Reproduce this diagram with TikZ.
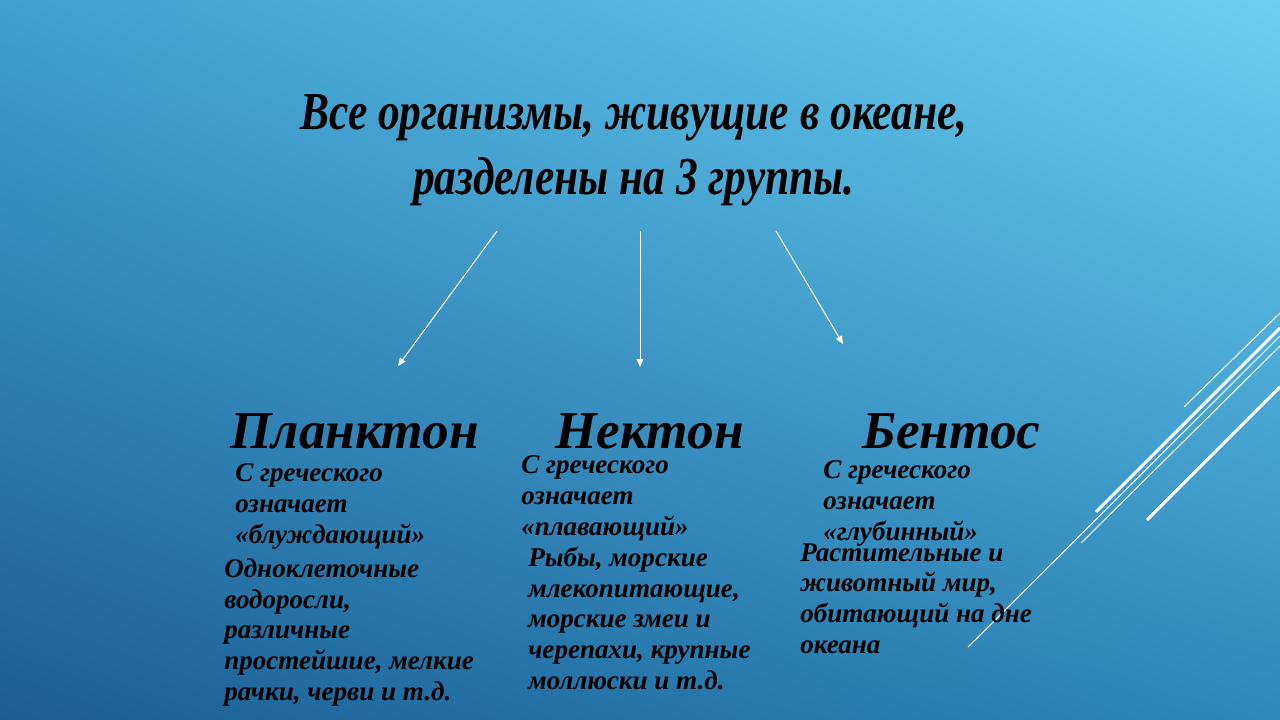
\documentclass[tikz,border=0pt]{standalone}
\usepackage{fontspec}
\setmainfont{Liberation Serif}
\newfontfamily\titlefont[FakeStretch=0.815]{Liberation Serif}
\usetikzlibrary{arrows.meta,shadings}
\definecolor{bgUL}{HTML}{3F9FD0}
\definecolor{bgUR}{HTML}{6CCFF0}
\definecolor{bgLL}{HTML}{1B5E93}
\definecolor{bgLR}{HTML}{2E88BB}
\tikzset{
  titletext/.style={inner sep=0pt, align=center, font=\titlefont\bfseries\itshape\fontsize{40}{48.75}\selectfont, text=black},
  headtext/.style={inner sep=0pt, anchor=base west, font=\bfseries\itshape\fontsize{40}{44}\selectfont, text=black},
  bodytext/.style={inner sep=0pt, align=left, anchor=base west, font=\bfseries\itshape\fontsize{20.3}{23}\selectfont, text=black},
  arrowline/.style={draw=white, line width=0.75pt, -{Triangle[length=6pt,width=5pt]}},
  thinline/.style={draw=white, line width=0.75pt},
  thickline/.style={draw=white, line width=2.2pt}
}
\begin{document}
\begin{tikzpicture}[x=0.75pt,y=-0.75pt]
\useasboundingbox (0,0) rectangle (1280,720);
\shade[upper left=bgUL, upper right=bgUR, lower left=bgLL, lower right=bgLR] (0,0) rectangle (1280,720);
% decorative lines
\draw[thinline] (1184,407) -- (1280,313);
\draw[thickline] (1096,512) -- (1280,328);
\draw[thinline] (968,647) -- (1280,336);
\draw[thinline] (1081,543) -- (1280,346);
\draw[thickline] (1147,520) -- (1280,387);
% title (base anchor = baseline of last line)
\node[titletext, anchor=base] (title) at (634,195) {Все организмы, живущие в океане,\\разделены на 3 группы.};
% headings
\node[headtext] (plankton) at (230,448) {Планктон};
\node[headtext] (nekton) at (555,448) {Нектон};
\node[headtext] (bentos) at (862,448) {Бентос};
% arrows
\coordinate (s1) at (497,231); \coordinate (e1) at (398,366);
\coordinate (s2) at (640,231); \coordinate (e2) at (640,367);
\coordinate (s3) at (776,231); \coordinate (e3) at (843,344);
\draw[arrowline] (s1) -- (e1);
\draw[arrowline] (s2) -- (e2);
\draw[arrowline] (s3) -- (e3);
% texts (base anchor = baseline of last line)
\node[bodytext] (pmean) at (235,543) {С греческого\\означает\\«блуждающий»};
\node[bodytext] (pdesc) at (224,700) {Одноклеточные\\водоросли,\\различные\\простейшие, мелкие\\рачки, черви и т.д.};
\node[bodytext] (nmean) at (521,535) {С греческого\\означает\\«плавающий»};
\node[bodytext] (ndesc) at (528,689) {Рыбы, морские\\млекопитающие,\\морские змеи и\\черепахи, крупные\\моллюски и т.д.};
\node[bodytext] (bmean) at (823,540) {С греческого\\означает\\«глубинный»};
\node[bodytext] (bdesc) at (800,653) {Растительные и\\животный мир,\\обитающий на дне\\океана};
\end{tikzpicture}
\end{document}
